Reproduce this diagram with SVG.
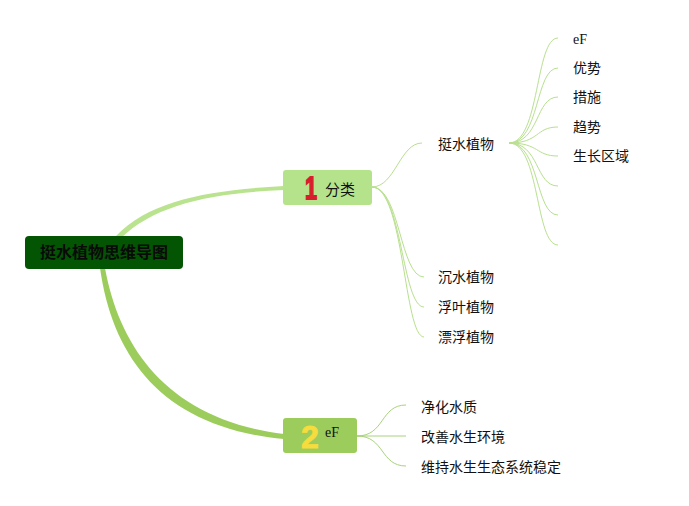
<svg xmlns="http://www.w3.org/2000/svg" width="689" height="506" viewBox="0 0 689 506">
<style>
.t{font-family:"Noto Sans CJK SC","Liberation Sans",sans-serif;font-size:14px;fill:#111}
.e{font-family:"Liberation Serif","Noto Sans CJK SC",serif;font-size:14px;fill:#111}
.thin{fill:none;stroke:#b8e08e;stroke-width:1}
.thin2{fill:none;stroke:#a9d27c;stroke-width:1}
.num{font-family:"Liberation Sans","DejaVu Sans",sans-serif;font-weight:bold}
</style>
<rect width="689" height="506" fill="#ffffff"/>
<g id="connectors">
<path d="M116,236 C150,200 210,190 284,186 L284,190 C210,193 155,205 121,238 Z" fill="#b9e38e"/>
<path d="M105,268 C120,350 170,420 284,434 L284,439 C165,428 113,360 100,268 Z" fill="#9ccd5c"/>
<path class="thin" d="M372,187 C395,187 400,143 422,143"/>
<path class="thin" d="M372,187 C400,187 400,277 424,277"/>
<path class="thin" d="M372,187 C402,187 402,307 424,307"/>
<path class="thin" d="M372,187 C404,187 404,337 424,337"/>
<path class="thin" d="M509,143 C540,143 535,38 558,38"/>
<path class="thin" d="M509,143 C540,143 535,68 558,68"/>
<path class="thin" d="M509,143 C540,143 535,97 558,97"/>
<path class="thin" d="M509,143 C540,143 535,127 558,127"/>
<path class="thin" d="M509,143 C540,143 535,156 558,156"/>
<path class="thin" d="M509,143 C540,143 535,186 558,186"/>
<path class="thin" d="M509,143 C540,143 535,215 558,215"/>
<path class="thin" d="M509,143 C540,143 535,245 558,245"/>
<path class="thin2" d="M357,436 C385,436 380,405 406,405"/>
<path class="thin2" d="M357,436 L406,436"/>
<path class="thin2" d="M357,436 C385,436 380,466 406,466"/>
</g>
<g id="root">
<rect x="25" y="236" width="158" height="33" rx="4" fill="#035403"/>
<text x="104" y="258" text-anchor="middle" font-family="Noto Sans CJK SC,sans-serif" font-size="16" font-weight="bold" fill="#0a0a0a">挺水植物思维导图</text>
</g>
<g id="n1">
<rect x="283" y="170" width="89" height="35" rx="3" fill="#b5e38b"/>
<text class="num" x="305" y="199" font-size="32" textLength="12" lengthAdjust="spacingAndGlyphs" fill="#d81e2c" stroke="#d81e2c" stroke-width="1.8">1</text>
<text x="325" y="195" font-family="Noto Sans CJK SC,sans-serif" font-size="15" fill="#111">分类</text>
</g>
<g id="n2">
<rect x="283" y="418" width="74" height="35" rx="3" fill="#9ccd5c"/>
<text class="num" x="301" y="448" font-size="32" fill="#f6dc3c" stroke="#f6dc3c" stroke-width="0.8">2</text>
<text class="e" x="325" y="437">eF</text>
</g>
<g id="n1a"><text class="t" x="438" y="149">挺水植物</text></g>
<g id="n1b"><text class="t" x="438" y="282">沉水植物</text></g>
<g id="n1c"><text class="t" x="438" y="312">浮叶植物</text></g>
<g id="n1d"><text class="t" x="438" y="342">漂浮植物</text></g>
<g id="n1a1"><text class="e" x="573" y="44">eF</text></g>
<g id="n1a2"><text class="t" x="573" y="73">优势</text></g>
<g id="n1a3"><text class="t" x="573" y="102">措施</text></g>
<g id="n1a4"><text class="t" x="573" y="132">趋势</text></g>
<g id="n1a5"><text class="t" x="573" y="161">生长区域</text></g>
<g id="n2a"><text class="t" x="421" y="412">净化水质</text></g>
<g id="n2b"><text class="t" x="421" y="442">改善水生环境</text></g>
<g id="n2c"><text class="t" x="421" y="472">维持水生生态系统稳定</text></g>
</svg>
